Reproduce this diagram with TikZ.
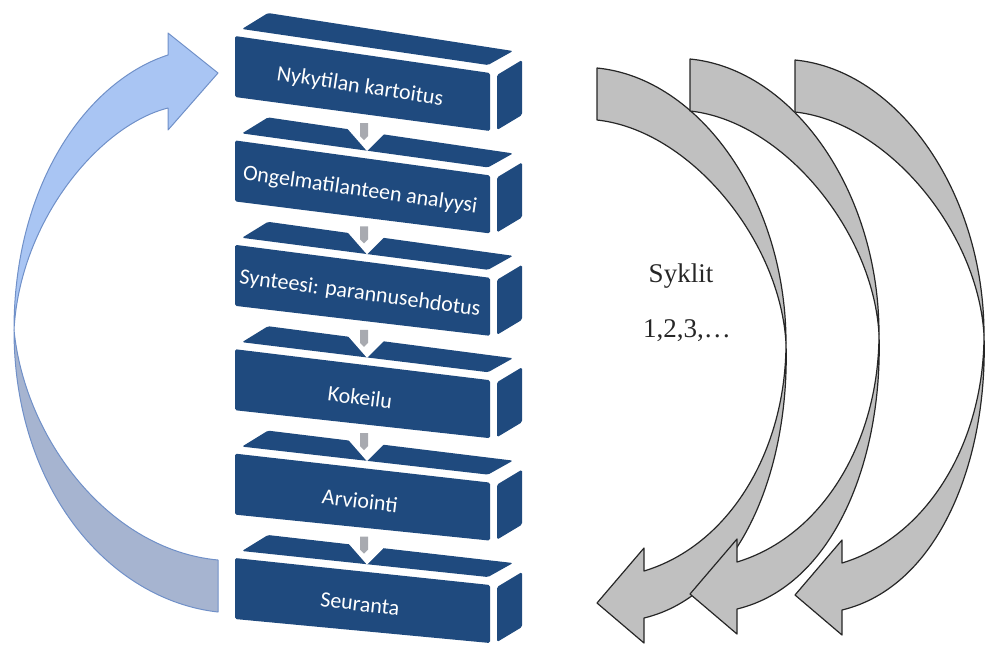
\documentclass[tikz,border=0pt]{standalone}
\usepackage{fontspec}
\setmainfont{Liberation Serif}
\newfontfamily\boxfont{Carlito}
\definecolor{boxblue}{HTML}{1F4A7E}
\definecolor{arrowlight}{HTML}{A9C5F3}
\definecolor{arrowdark}{HTML}{A6B4D0}
\definecolor{arrowedge}{HTML}{7090C8}
\definecolor{cyclegray}{HTML}{C0C0C0}
\definecolor{shaftgray}{HTML}{A8AAB0}
\begin{document}
\begin{tikzpicture}[x=0.5pt,y=-0.5pt,
  face/.style={fill=boxblue, rounded corners=0.8pt},
  steplabel/.style={text=white, font=\boxfont\fontsize{11}{13}\selectfont, inner sep=0pt},
  bluefront/.style={fill=arrowlight, draw=arrowedge, line width=0.5pt, line join=round},
  blueback/.style={fill=arrowdark, draw=arrowedge, line width=0.5pt, line join=round},
  cycleshape/.style={fill=cyclegray, draw=black!85, line width=0.6pt, line join=round},
  cycletext/.style={font=\fontsize{13.5}{16}\selectfont, text=black!85, inner sep=0pt},
  cycarrow/.pic={
    \path[cycleshape] (597,68) .. controls (700,78) and (786,200) .. (786,343)
      .. controls (780,240) and (690,130) .. (597,120) -- cycle;
    \path[cycleshape] (786,343) .. controls (786,450) and (730,545) .. (644,571)
      -- (644,548) -- (597,603) -- (644,643) -- (644,618)
      .. controls (740,595) and (790,470) .. (786,343) -- cycle;
  }]
\useasboundingbox (0,0) rectangle (985,655);

% boxes
\foreach \i/\t in {0/Nykytilan kartoitus,1/Ongelmatilanteen analyysi,2/Synteesi: parannusehdotus,3/Kokeilu,4/Arviointi,5/Seuranta}{
  \pgfmathsetmacro\a{104.4*\i}
  \pgfmathsetmacro\b{102.4*\i}
  \pgfmathsetmacro\r{-8.6+0.45*\i}
  \fill[face] (242,29+\a) -- (268,13+\a) -- (513,51+\b) -- (488,65+\b) -- cycle;
  \fill[face] (235,36+\a) -- (490,73+\b) -- (490,131+\b) -- (235,97+\a) -- cycle;
  \fill[face] (497,75+\b) -- (522,60+\b) -- (522,115+\b) -- (497,130+\b) -- cycle;
  \node[steplabel, rotate=\r] (b\i) at (360,{87+(\a+\b)/2}) {\t};
}

% small connectors between boxes
\foreach \i in {0,...,4}{
  \pgfmathsetmacro\c{103.4*\i}
  \fill[white] (346,127+\c) -- (385,133+\c) -- (367,151+\c) -- cycle;
  \fill[shaftgray] (360,123+\c) -- (368,123+\c) -- (368,136+\c) -- (364,140+\c) -- (360,136+\c) -- cycle;
}

% blue return arrow
\path[blueback] (14,330) .. controls (14,490) and (110,600) .. (218,612)
  -- (218,560) .. controls (110,550) and (25,440) .. (14,330) -- cycle;
\path[bluefront] (168,55) .. controls (90,80) and (14,180) .. (14,330)
  .. controls (20,220) and (100,125) .. (168,108)
  -- (168,130) -- (218,73) -- (168,33) -- cycle;

% gray cycle arrows
\pic at (0,0) {cycarrow};
\pic at (93,-9) {cycarrow};
\pic at (198,-8) {cycarrow};

\node[cycletext] (syk) at (681,276) {Syklit};
\node[cycletext] (nums) at (687,331) {1,2,3,\ldots};
\end{tikzpicture}
\end{document}
